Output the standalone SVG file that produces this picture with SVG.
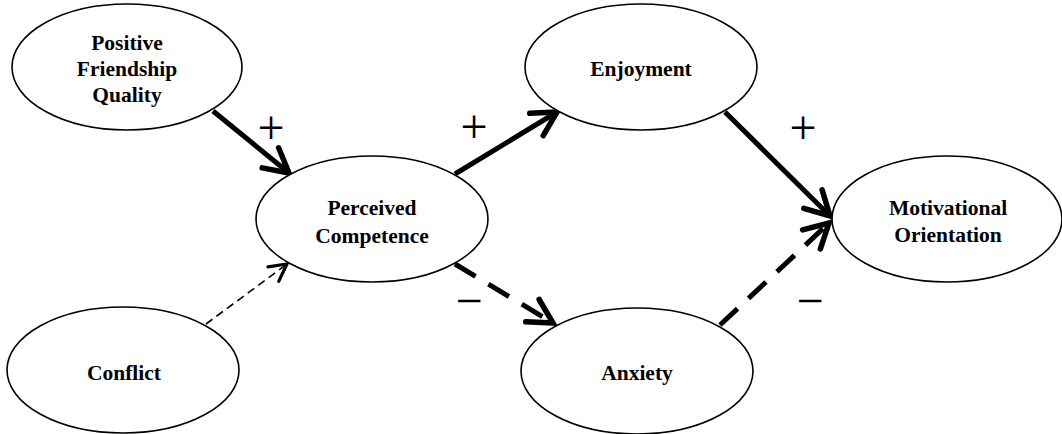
<svg xmlns="http://www.w3.org/2000/svg" width="1062" height="434" viewBox="0 0 1062 434">
  <defs>
    <style>
      .node ellipse { fill: #fff; stroke: #000; stroke-width: 1.6; }
      .node text { font-family: "Liberation Serif", "Times New Roman", serif; font-weight: bold; font-size: 21.5px; fill: #000; text-anchor: middle; }
      .edge { fill: none; stroke: #000; }
      .strong { stroke-width: 5; marker-end: url(#head); }
      .dash { stroke-dasharray: 24 15; }
      .weak { stroke-width: 1.6; stroke-dasharray: 8 5; marker-end: url(#head-thin); }
      .sign { font-family: "Liberation Serif", "Times New Roman", serif; font-size: 48px; fill: #000; text-anchor: middle; }
    </style>
    <marker id="head" markerUnits="userSpaceOnUse" markerWidth="40" markerHeight="40" refX="0" refY="0" orient="auto" overflow="visible">
      <path d="M-24,-13 L0,0 L-24,13" fill="none" stroke="#000" stroke-width="5.5" stroke-dasharray="none" stroke-linejoin="miter" stroke-linecap="round"/>
    </marker>
    <marker id="head-thin" markerUnits="userSpaceOnUse" markerWidth="30" markerHeight="30" refX="0" refY="0" orient="auto" overflow="visible">
      <path d="M-17,-9 L0,0 L-17,9" fill="none" stroke="#000" stroke-width="3.2" stroke-dasharray="none" stroke-linecap="round"/>
    </marker>
  </defs>

  <rect width="1062" height="434" fill="#fff"/>

  <!-- connectors -->
  <g id="connectors">
    <path class="edge strong" d="M213,111 L289,173"/>
    <path class="edge strong" d="M455,174 L557,112"/>
    <path class="edge strong" d="M725,112 L830,216"/>
    <path class="edge strong dash" d="M455,264 L553,323"/>
    <path class="edge strong dash" d="M720,325 L829,223"/>
    <path class="edge weak" d="M206,324 L287,264"/>
  </g>

  <!-- path signs -->
  <g id="signs">
    <text class="sign" x="271" y="144">+</text>
    <text class="sign" x="474" y="143">+</text>
    <text class="sign" x="803" y="144">+</text>
    <text class="sign" x="469" y="317">−</text>
    <text class="sign" x="810" y="317">−</text>
  </g>

  <!-- nodes -->
  <g id="positive-friendship-quality" class="node">
    <ellipse cx="127" cy="67" rx="115" ry="63"/>
    <text x="127" y="50">Positive</text>
    <text x="127" y="76">Friendship</text>
    <text x="127" y="102">Quality</text>
  </g>

  <g id="perceived-competence" class="node">
    <ellipse cx="372" cy="219" rx="116" ry="63"/>
    <text x="372" y="215">Perceived</text>
    <text x="372" y="243">Competence</text>
  </g>

  <g id="enjoyment" class="node">
    <ellipse cx="641" cy="67" rx="116" ry="63"/>
    <text x="641" y="76">Enjoyment</text>
  </g>

  <g id="anxiety" class="node">
    <ellipse cx="637" cy="371" rx="116" ry="63"/>
    <text x="637" y="380">Anxiety</text>
  </g>

  <g id="motivational-orientation" class="node">
    <ellipse cx="947" cy="219" rx="115" ry="63"/>
    <text x="948" y="215">Motivational</text>
    <text x="948" y="242">Orientation</text>
  </g>

  <g id="conflict" class="node">
    <ellipse cx="123" cy="370" rx="116" ry="63"/>
    <text x="124" y="380">Conflict</text>
  </g>
</svg>
